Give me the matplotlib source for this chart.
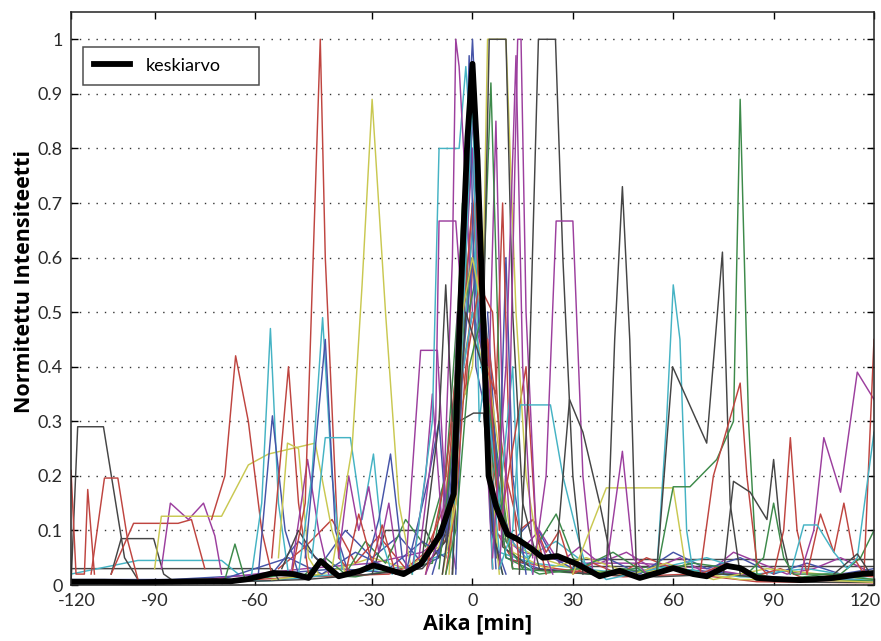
import matplotlib.pyplot as plt
from matplotlib.transforms import ScaledTranslation

# matlab colour order, washed out like the scanned original
palette = {'b': '#4654a8', 'g': '#3d8a4a', 'r': '#bf4540', 'c': '#45b3c4',
           'm': '#9c3f9e', 'y': '#c9c851', 'k': '#454545'}

# ---- data (x = aika [min], y = normitettu intensiteetti) ----
# single measurements, only breakpoints of each polyline
m_peak_m5 = ([-14, -9, -6, -5, -4, 0, 4, 7], [0.02, 0.1, 0.6, 1.0, 0.95, 0.5, 0.4, 0.05])
b_peak_0 = ([-12, -6, -4, 0, 3, 5.5, 10], [0.02, 0.15, 0.5, 1.0, 0.6, 0.1, 0.02])
c_step_08 = ([-18, -12, -10, -4, -2, 3, 5.5, 9], [0.02, 0.3, 0.8, 0.8, 0.95, 0.5, 0.1, 0.02])
m_step_067 = ([-16, -11, -10, -5, -3, 0, 3, 6], [0.05, 0.3, 0.667, 0.667, 0.5, 0.8, 0.4, 0.03])
y_top_5 = ([-9, -5, -3, 0, 3, 4.5, 10, 13, 16, 20],
           [0.02, 0.15, 0.5, 0.6, 0.5, 1.0, 1.0, 0.5, 0.2, 0.05])
k_top_5 = ([-9, -5, -2, 3, 5, 10, 12, 15, 20], [0.02, 0.2, 0.5, 0.4, 1.0, 1.0, 0.5, 0.15, 0.03])
m_peak_14 = ([8, 11, 13.5, 14.5, 16, 19, 24], [0.03, 0.3, 1.0, 1.0, 0.5, 0.1, 0.02])
m_peak_13 = ([6, 10, 13, 15, 18], [0.05, 0.4, 0.97, 0.4, 0.05])
k_top_20 = ([14, 17, 19.7, 24.8, 27, 30, 33], [0.02, 0.4, 1.0, 1.0, 0.6, 0.2, 0.02])
m_step_25 = ([18, 22, 25, 30, 33, 36], [0.02, 0.2, 0.667, 0.667, 0.2, 0.02])
r_peak_3 = ([-8, -5, -2, 2, 6, 9, 12], [0.02, 0.15, 0.4, 0.55, 0.5, 0.15, 0.03])
g_peak_5 = ([-8, -5, -1, 3, 5.5, 7, 9, 12], [0.02, 0.1, 0.4, 0.5, 0.92, 0.6, 0.15, 0.03])
b_peak_m1 = ([-8, -3, -1, 1, 4.5, 7], [0.05, 0.5, 0.97, 0.4, 0.3, 0.03])
c_peak_0 = ([-6, -2, 0, 2, 4, 6], [0.05, 0.6, 0.9, 0.3, 0.4, 0.03])
r_peak_m4 = ([-14, -8, -4, -2, 1, 4, 6], [0.02, 0.2, 0.45, 0.35, 0.7, 0.4, 0.03])
m_step_043 = ([-20, -15.5, -10.5, -8, -5], [0.03, 0.43, 0.43, 0.15, 0.03])
b_ramp_m10 = ([-20, -16, -13, -10, -7], [0.02, 0.12, 0.2, 0.3, 0.05])
k_step_03 = ([-6, -4, 0.3, 3.3, 6, 9], [0.02, 0.3, 0.315, 0.315, 0.1, 0.02])
c_step_033 = ([8, 12, 14.3, 23.3, 27, 31, 34], [0.03, 0.1, 0.33, 0.33, 0.2, 0.1, 0.03])
k_peak_29 = ([25, 29, 33, 38, 42], [0.05, 0.34, 0.28, 0.15, 0.03])
k_peak_m8 = ([-15, -10, -8, -6, -3, 0, 4, 7], [0.05, 0.3, 0.55, 0.3, 0.5, 0.6, 0.35, 0.05])
g_peak_m3 = ([-10, -6, -3, -1, 2, 5, 8], [0.03, 0.25, 0.7, 0.5, 0.6, 0.2, 0.03])
y_peak_2 = ([-7, -4.5, 0, 2, 4.5, 8], [0.02, 0.3, 0.4, 0.6, 0.3, 0.02])
m_peak_7 = ([-6, -4, 0, 5, 7, 9, 12], [0.03, 0.35, 0.5, 0.4, 0.85, 0.3, 0.04])
b_peak_10 = ([-5, -3, 0, 5, 8, 10, 12, 16], [0.02, 0.4, 0.6, 0.3, 0.2, 0.6, 0.2, 0.02])
r_peak_9 = ([-6, -4, 0, 4, 7, 9, 11, 14], [0.02, 0.4, 0.7, 0.4, 0.35, 0.7, 0.25, 0.03])
c_peak_12 = ([-6, -4, 0, 4, 8, 12, 14, 18], [0.02, 0.35, 0.5, 0.35, 0.15, 0.4, 0.1, 0.02])
m_peak_m12 = ([-18, -14, -12, -9, -6, -4.5], [0.03, 0.2, 0.35, 0.1, 0.25, 0.5])
r_peak_16 = ([4.5, 8, 12, 16, 19, 22], [0.45, 0.1, 0.25, 0.4, 0.1, 0.02])

y_peak_m30 = ([-42, -36, -33, -30, -26, -22, -18], [0.03, 0.25, 0.55, 0.89, 0.5, 0.15, 0.02])
y_plateau = ([-95, -93, -75, -67, -61, -47, -42, -38],
             [0.03, 0.126, 0.126, 0.22, 0.24, 0.26, 0.1, 0.02])
r_peak_m45 = ([-54, -50, -45.5, -44, -40, -36], [0.02, 0.15, 1.0, 0.6, 0.05, 0.02])
r_peak_m71 = ([-78, -74, -70.8, -67, -63, -60], [0.12, 0.2, 0.42, 0.3, 0.1, 0.02])
c_peak_m60 = ([-66, -63, -60.4, -58, -55], [0.02, 0.15, 0.47, 0.15, 0.02])
b_peak_m60 = ([-64, -59.8, -56, -52], [0.02, 0.31, 0.1, 0.02])
r_peak_m55 = ([-60, -55, -52, -49], [0.05, 0.40, 0.15, 0.02])
c_peak_m45 = ([-52, -48, -44.8, -42, -39], [0.02, 0.2, 0.49, 0.2, 0.03])
b_peak_m44 = ([-50, -44, -41, -37], [0.05, 0.45, 0.1, 0.02])
c_step_m40 = ([-48, -44, -36.5, -33, -29.6, -27, -24], [0.05, 0.27, 0.27, 0.12, 0.24, 0.08, 0.02])
b_peak_m25 = ([-32, -28, -24.5, -21, -18], [0.03, 0.12, 0.24, 0.05, 0.02])
m_zig_m30 = ([-40, -37, -34, -31, -28, -25, -22], [0.05, 0.2, 0.1, 0.18, 0.06, 0.15, 0.02])
r_zig_m30 = ([-38, -34, -30, -27, -23], [0.02, 0.13, 0.04, 0.11, 0.02])
y_peak_m55 = ([-58, -55.3, -52, -49, -46], [0.05, 0.26, 0.25, 0.05, 0.02])
m_peak_m49 = ([-54, -49.3, -46, -43], [0.03, 0.23, 0.1, 0.02])
k_bump_m52 = ([-57, -52, -47, -42], [0.03, 0.1, 0.05, 0.02])
b_zig_ml = ([-60, -52, -45, -38, -30, -22, -15, -8, -4.5],
            [0.02, 0.08, 0.04, 0.1, 0.05, 0.09, 0.04, 0.12, 0.35])
r_zig_ml = ([-58, -50, -42, -35, -28, -20, -14, -8, -4.5],
            [0.03, 0.07, 0.12, 0.04, 0.09, 0.03, 0.06, 0.15, 0.4])
k_step_m20 = ([-30, -26, -14, -10, -6, -4.5], [0.02, 0.1, 0.1, 0.05, 0.15, 0.45])
g_zig_ml = ([-50, -44, -38, -32, -26, -20, -14, -8, -4.5],
            [0.02, 0.05, 0.02, 0.08, 0.04, 0.12, 0.07, 0.2, 0.5])

k_step_m118 = ([-120, -118, -110.3, -104, -100], [0.0, 0.29, 0.29, 0.05, 0.01])
r_edge_m120 = ([-120, -118.5, -116, -115, -113], [0.21, 0.02, 0.02, 0.175, 0.02])
r_step_m110 = ([-114, -110, -106, -103, -100], [0.02, 0.196, 0.196, 0.08, 0.01])
k_step_m100 = ([-108, -105, -95.3, -92.3, -90], [0.02, 0.085, 0.085, 0.02, 0.01])
r_step_m101 = ([-108, -101.3, -88, -84, -80], [0.02, 0.113, 0.113, 0.12, 0.03])
m_zig_m85 = ([-93, -90.3, -84.9, -80.4, -77, -75], [0.03, 0.15, 0.12, 0.15, 0.09, 0.02])
g_peak_m71 = ([-74, -71, -68], [0.01, 0.075, 0.01])
k_flat_left = ([-120, -60, -58], [0.03, 0.03, 0.01])
c_flat_left = ([-120, -100, -75, -70], [0.02, 0.045, 0.045, 0.02])

k_peak_45 = ([40, 42.5, 44.8, 47, 49], [0.02, 0.45, 0.73, 0.45, 0.02])
m_peak_45 = ([40, 44.8, 48, 52], [0.03, 0.245, 0.05, 0.02])
c_peak_60 = ([55, 58, 60, 62, 64, 66], [0.02, 0.3, 0.55, 0.45, 0.1, 0.02])
k_zig_60 = ([55, 59.8, 70, 74.7, 77, 80], [0.02, 0.40, 0.26, 0.61, 0.15, 0.02])
g_peak_80 = ([55, 60, 65, 73, 78, 80, 82.5, 85], [0.02, 0.18, 0.18, 0.23, 0.3, 0.89, 0.3, 0.02])
y_step_40 = ([30, 40, 60, 62, 64], [0.02, 0.178, 0.178, 0.1, 0.02])
r_peak_80 = ([68, 72, 80, 82, 85, 88], [0.02, 0.2, 0.37, 0.2, 0.04, 0.02])
k_zig_85 = ([75, 78, 83, 88, 90, 92, 95], [0.02, 0.19, 0.17, 0.12, 0.23, 0.1, 0.02])
r_peak_95 = ([90, 93, 95, 97, 100], [0.02, 0.1, 0.27, 0.1, 0.02])
m_zig_110 = ([98, 102, 105, 110, 115, 120], [0.02, 0.1, 0.27, 0.17, 0.39, 0.34])
r_zig_110 = ([100, 104, 108, 111, 114, 117, 120], [0.02, 0.13, 0.06, 0.15, 0.05, 0.02, 0.45])
c_zig_110 = ([95, 99, 103, 108, 112, 115, 120], [0.02, 0.11, 0.11, 0.06, 0.03, 0.05, 0.28])
g_peak_90 = ([82, 87, 90, 93, 96, 110, 116, 120], [0.02, 0.05, 0.15, 0.05, 0.02, 0.02, 0.05, 0.1])
k_flat_right = ([30, 50, 120], [0.047, 0.047, 0.047])
k_flat_035 = ([30, 120], [0.035, 0.035])
k_bump_115 = ([108, 115, 119], [0.02, 0.057, 0.02])
m_zig_right = ([4.5, 8, 14, 20, 26, 32, 38, 46, 54, 62, 70, 78, 86, 94, 102, 110, 120],
               [0.4, 0.12, 0.06, 0.1, 0.04, 0.07, 0.04, 0.06, 0.03, 0.05, 0.02, 0.06, 0.04,
                0.02, 0.03, 0.05, 0.02])
b_zig_right = ([4.5, 8, 12, 18, 24, 30, 40, 50, 60, 70, 80, 90, 100, 110, 120],
               [0.5, 0.15, 0.08, 0.12, 0.05, 0.03, 0.05, 0.02, 0.06, 0.03, 0.05, 0.02, 0.04,
                0.02, 0.03])
c_low_right = ([4.5, 9, 16, 25, 40, 55, 70, 85, 100, 120],
               [0.3, 0.1, 0.05, 0.08, 0.01, 0.03, 0.05, 0.02, 0.03, 0.01])
r_zig_right = ([4.5, 10, 14, 18, 22, 26, 30, 36, 44, 52, 60, 68, 76, 84, 92, 100, 110, 120],
               [0.45, 0.2, 0.1, 0.12, 0.06, 0.1, 0.02, 0.04, 0.02, 0.05, 0.03, 0.02, 0.04,
                0.015, 0.03, 0.01, 0.02, 0.015])
g_zig_25 = ([4.5, 10, 15, 20, 25, 30, 35, 45, 55, 65],
            [0.35, 0.08, 0.03, 0.08, 0.13, 0.05, 0.02, 0.03, 0.02, 0.04])
y_low_right = ([4.5, 12, 22, 34, 48, 58, 72, 88, 104, 120],
               [0.4, 0.06, 0.03, 0.05, 0.02, 0.04, 0.01, 0.03, 0.02, 0.01])
g_low_right = ([4.5, 10, 20, 32, 42, 52, 66, 78, 92, 106, 120],
               [0.3, 0.05, 0.02, 0.03, 0.06, 0.02, 0.04, 0.03, 0.01, 0.02, 0.01])
b_low_left = ([-75, -65, -55, -45, -35, -25, -15, -8, -4.5],
              [0.01, 0.03, 0.05, 0.02, 0.06, 0.03, 0.08, 0.05, 0.3])

# low clutter along the baseline (every series still peaks round zero)
b_base = ([-120, -90, -60, -40, -20, -10, -5, 0, 5, 10, 20, 40, 60, 80, 100, 120],
          [0.01, 0.01, 0.02, 0.03, 0.02, 0.05, 0.3, 0.7, 0.3, 0.05, 0.03, 0.02, 0.03, 0.02,
           0.01, 0.01])
m_base = ([-120, -80, -50, -30, -15, -6, -4, 0, 4, 6, 15, 30, 50, 70, 90, 120],
          [0.005, 0.01, 0.03, 0.04, 0.06, 0.1, 0.45, 0.85, 0.45, 0.1, 0.06, 0.04, 0.04, 0.03,
           0.01, 0.01])
g_base = ([-120, -70, -55, -35, -12, -5, 0, 5, 12, 35, 55, 75, 95, 120],
          [0.004, 0.006, 0.02, 0.015, 0.04, 0.35, 0.6, 0.35, 0.03, 0.02, 0.035, 0.02, 0.01,
           0.008])
r_base = ([-120, -65, -50, -25, -12, -6, -3, 1, 5, 7, 12, 25, 45, 65, 85, 120],
          [0.003, 0.01, 0.015, 0.02, 0.05, 0.1, 0.4, 0.75, 0.35, 0.1, 0.045, 0.03, 0.015,
           0.02, 0.006, 0.004])
c_base = ([-120, -60, -40, -18, -7, -4.5, 0, 4.5, 8, 18, 40, 62, 80, 120],
          [0.002, 0.008, 0.02, 0.035, 0.06, 0.3, 0.65, 0.3, 0.06, 0.04, 0.025, 0.03, 0.015,
           0.01])
k_base = ([-120, -80, -50, -30, -15, -8, -5, 0, 5, 9, 18, 35, 55, 75, 100, 120],
          [0.002, 0.004, 0.01, 0.02, 0.03, 0.08, 0.4, 0.8, 0.4, 0.07, 0.03, 0.02, 0.015, 0.02,
           0.005, 0.005])
y_base = ([-60, -45, -30, -20, -10, -4.5, 0, 4.5, 10, 20, 30, 45, 60, 80, 100, 120],
          [0.01, 0.02, 0.05, 0.03, 0.07, 0.35, 0.5, 0.35, 0.08, 0.05, 0.03, 0.02, 0.03, 0.01,
           0.01, 0.005])

traces = [b_base, m_base, g_base, r_base, c_base, k_base, y_base,
          k_flat_left, c_flat_left, k_flat_right, k_flat_035,
          b_zig_ml, r_zig_ml, k_step_m20, g_zig_ml, b_low_left,
          m_zig_right, b_zig_right, c_low_right, r_zig_right, g_zig_25, y_low_right,
          g_low_right,
          k_step_m118, r_edge_m120, r_step_m110, k_step_m100, r_step_m101, m_zig_m85,
          g_peak_m71, y_plateau, r_peak_m71, c_peak_m60, b_peak_m60, r_peak_m55,
          y_peak_m55, m_peak_m49, k_bump_m52, r_peak_m45, c_peak_m45, b_peak_m44,
          c_step_m40, b_peak_m25, m_zig_m30, r_zig_m30, y_peak_m30,
          m_step_043, b_ramp_m10, m_peak_m12, c_step_08, m_step_067, r_peak_m4, m_peak_m5,
          k_peak_m8, g_peak_m3, y_peak_2, m_peak_7, b_peak_10, r_peak_9, c_peak_12,
          r_peak_16, b_peak_m1, c_peak_0, b_peak_0, k_step_03, r_peak_3, g_peak_5, y_top_5,
          k_top_5, m_peak_13, m_peak_14, c_step_033, k_top_20, m_step_25, k_peak_29,
          y_step_40, k_peak_45, m_peak_45, c_peak_60, k_zig_60, g_peak_80, r_peak_80,
          k_zig_85, g_peak_90, r_peak_95, m_zig_110, r_zig_110, c_zig_110, k_bump_115]
trace_colors = ['b', 'm', 'g', 'r', 'c', 'k', 'y',
                'k', 'c', 'k', 'k',
                'b', 'r', 'k', 'g', 'b',
                'm', 'b', 'c', 'r', 'g', 'y',
                'g',
                'k', 'r', 'r', 'k', 'r', 'm',
                'g', 'y', 'r', 'c', 'b', 'r',
                'y', 'm', 'k', 'r', 'c', 'b',
                'c', 'b', 'm', 'r', 'y',
                'm', 'b', 'm', 'c', 'm', 'r', 'm',
                'k', 'g', 'y', 'm', 'b', 'r', 'c',
                'r', 'b', 'c', 'b', 'k', 'r', 'g', 'y',
                'k', 'm', 'm', 'c', 'k', 'm', 'k',
                'y', 'k', 'm', 'c', 'k', 'g', 'r',
                'k', 'g', 'r', 'm', 'r', 'c', 'k']

# keskiarvo (mean curve)
mean_x = [-120, -110, -100, -90, -80, -72, -67, -59.5, -53.5, -49, -45.4, -40, -33.5,
          -29.6, -25, -20.6, -15.5, -9.6, -5.6, -3.6, -1.5, 0, 1.5, 3, 4.8, 7, 8.4,
          10.5, 13.4, 17.3, 21, 25.4, 31.4, 38, 44, 50, 54, 60, 66, 70, 76, 80, 85,
          90, 98, 108, 116, 120]
mean_y = [0.006, 0.006, 0.005, 0.006, 0.007, 0.007, 0.011, 0.022, 0.02, 0.013, 0.044,
          0.016, 0.026, 0.036, 0.028, 0.02, 0.038, 0.093, 0.167, 0.52, 0.82, 0.955,
          0.78, 0.52, 0.2, 0.145, 0.123, 0.093, 0.084, 0.068, 0.05, 0.053, 0.038,
          0.016, 0.026, 0.013, 0.02, 0.031, 0.02, 0.016, 0.035, 0.031, 0.013, 0.011,
          0.009, 0.013, 0.02, 0.022]

# tick marks sit where the original put them
tick_pos = [-120, -95, -65, -30, 0, 30, 60, 90, 120]
tick_lab = ['-120', '-90', '-60', '-30', '0', '30', '60', '90', '120']
ytick_pos = [0, 0.1, 0.2, 0.3, 0.4, 0.5, 0.6, 0.7, 0.8, 0.9, 1.0]
ytick_lab = ['0', '0.1', '0.2', '0.3', '0.4', '0.5', '0.6', '0.7', '0.8', '0.9', '1']

fig = plt.figure(figsize=(8.81, 6.41), dpi=100)
ax = fig.add_axes([71 / 881, 1 - 585 / 641, 803 / 881, 573 / 641])

for (xs, ys), c in zip(traces, trace_colors):
    ax.plot(xs, ys, color=palette[c], lw=1.05)
ax.plot(mean_x, mean_y, color='black', lw=4.2, label='keskiarvo')

ax.set_xlim(-120, 120)
ax.set_ylim(0, 1.05)
ax.set_xticks(tick_pos)
ax.set_xticklabels(tick_lab)
ax.set_yticks(ytick_pos)
ax.set_yticklabels(ytick_lab)
ax.tick_params(direction='in', length=5, width=1, top=True, right=True,
               labelsize=13, labelcolor='#2a2a2a', pad=6)
for lab in ax.get_xticklabels() + ax.get_yticklabels():
    lab.set_family('Lato')
# end labels are pulled inside the frame like in the original
xl = ax.get_xticklabels()
xl[0].set_transform(xl[0].get_transform() + ScaledTranslation(0.06, 0, fig.dpi_scale_trans))
xl[-1].set_transform(xl[-1].get_transform() + ScaledTranslation(-0.09, 0, fig.dpi_scale_trans))
for s in ax.spines.values():
    s.set_linewidth(1.1)
    s.set_color('#222222')

ax.yaxis.grid(True, color='#333333', lw=1.0, linestyle=(0, (1, 5)))
ax.set_axisbelow(True)

ax.set_xlabel('Aika [min]', family='Open Sans', fontweight='bold', fontsize=15.5)
ax.set_ylabel('Normitettu Intensiteetti', family='Open Sans', fontweight='bold', fontsize=15.5)
ax.xaxis.set_label_coords(0.506, -0.05)
ax.yaxis.set_label_coords(-0.045, 0.53)

leg = ax.legend(loc='upper left', bbox_to_anchor=(0.015, 0.5, 0.219, 0.439), mode='expand',
                borderaxespad=0, fancybox=False, handlelength=2.0, borderpad=0.6,
                handletextpad=0.9, prop={'family': 'Lato', 'size': 13})
leg.get_frame().set_edgecolor('#222222')
leg.get_frame().set_linewidth(1.1)

fig.savefig('out.png', dpi=100)
